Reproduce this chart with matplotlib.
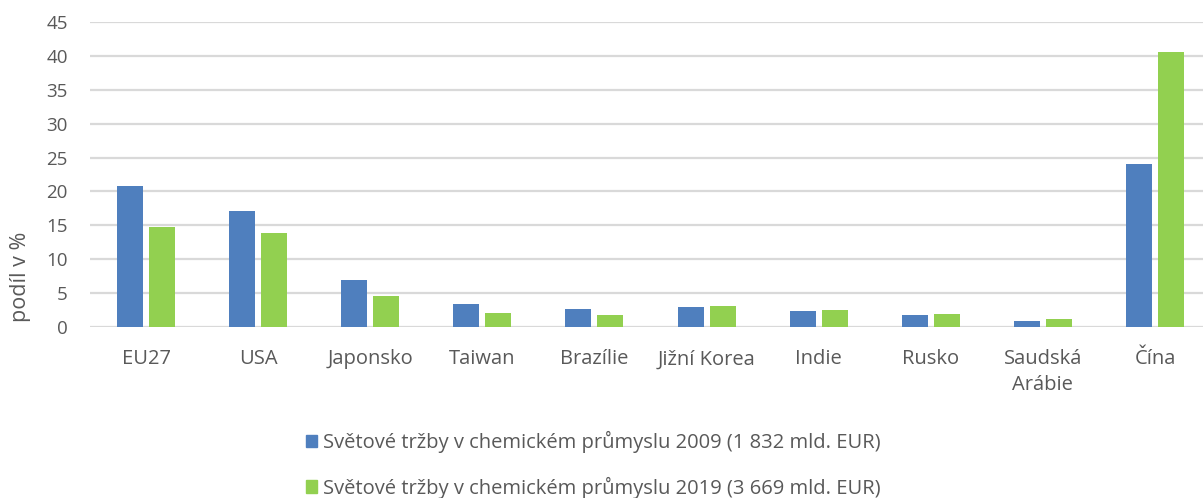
import matplotlib
matplotlib.use("Agg")
import matplotlib.pyplot as plt
import numpy as np
from matplotlib.patches import Patch

categories = ["EU27", "USA", "Japonsko", "Taiwan", "Brazílie", "Jižní Korea",
              "Indie", "Rusko", "Saudská\nArábie", "Čína"]
sales_2009 = [20.8, 17.1, 6.9, 3.4, 2.6, 2.95, 2.3, 1.7, 0.9, 24.1]
sales_2019 = [14.7, 13.9, 4.6, 2.0, 1.7, 3.1, 2.5, 1.9, 1.2, 40.6]
label_2009 = "Světové tržby v chemickém průmyslu 2009 (1 832 mld. EUR)"
label_2019 = "Světové tržby v chemickém průmyslu 2019 (3 669 mld. EUR)"
yticks = [0, 5, 10, 15, 20, 25, 30, 35, 40, 45]

plt.rcParams['font.family'] = ['Open Sans', 'DejaVu Sans']
txt = "#595959"
blue = "#4F7FBE"
green = "#92D050"

W, H = 1203, 498
fig = plt.figure(figsize=(W / 100, H / 100), dpi=100)
left, right = 90 / W, 1211 / W
bottom, top = (H - 327) / H, (H - 22) / H
ax = fig.add_axes([left, bottom, right - left, top - bottom])

x = np.arange(len(categories))
bw = 26 / 112
off = 16 / 112
ax.bar(x - off, sales_2009, bw, color=blue, zorder=3)
ax.bar(x + off, sales_2019, bw, color=green, zorder=3)

ax.set_xlim(-0.5, len(categories) - 0.5)
ax.set_ylim(0, 45)
ax.set_yticks(yticks)
ax.yaxis.grid(True, color="#d9d9d9", linewidth=1.6, zorder=0)
ax.set_axisbelow(True)
for s in ax.spines.values():
    s.set_visible(False)
ax.tick_params(axis='both', length=0, colors=txt)
ax.tick_params(axis='y', pad=16, labelsize=13.5)
ax.tick_params(axis='x', pad=16, labelsize=14.5)
ax.set_xticks(x)
ax.set_xticklabels(categories, linespacing=1.4)

fig.text(21 / W, 1 - 277 / H, "podíl v %", rotation=90, ha='center', va='center',
         color=txt, fontsize=15.5)

handles = [Patch(color=blue, label=label_2009), Patch(color=green, label=label_2019)]
leg = fig.legend(handles=handles, loc='center', bbox_to_anchor=(593 / W, 1 - 465 / H),
                 ncol=1, frameon=False, fontsize=14.5, handlelength=0.55,
                 handleheight=0.55, handletextpad=0.3, labelspacing=1.15,
                 labelcolor=txt, borderpad=0)

fig.savefig("out.png", dpi=100)
